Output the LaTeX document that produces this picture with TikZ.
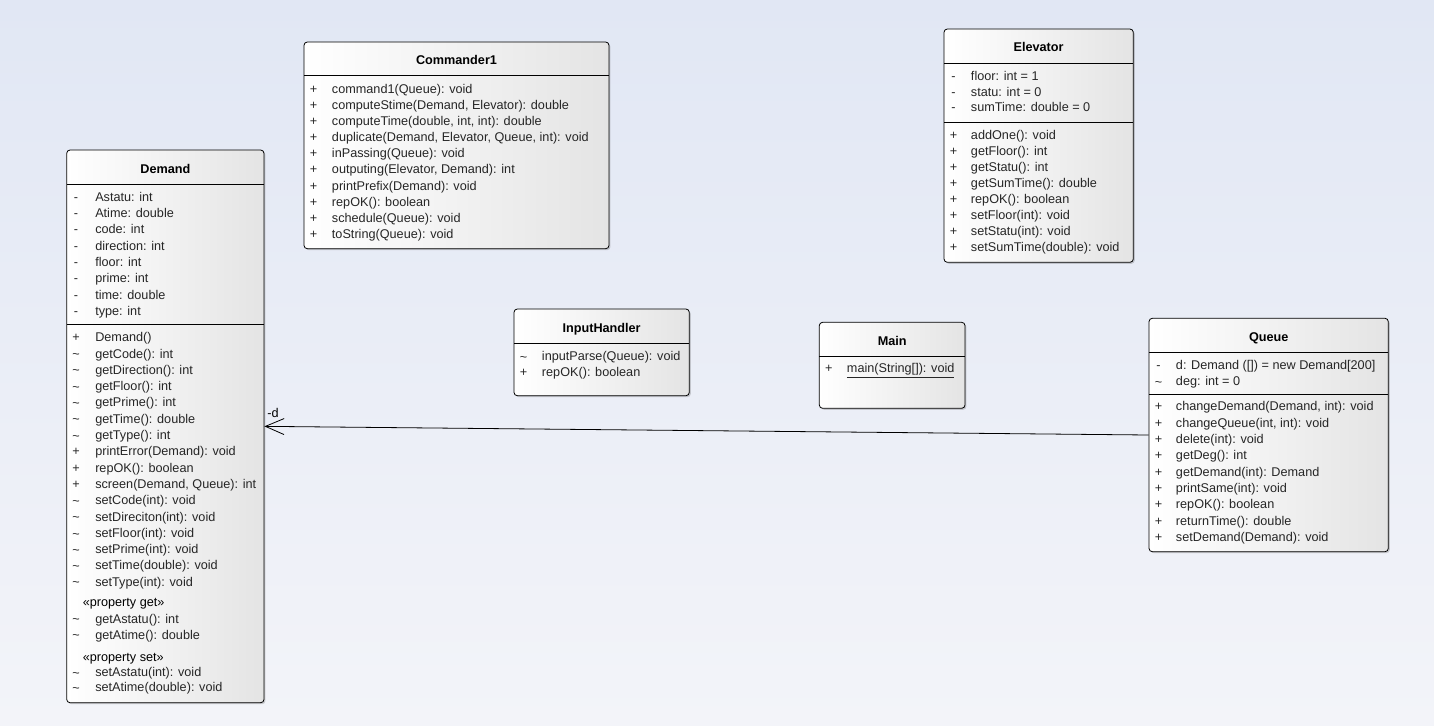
\documentclass[tikz,border=0pt]{standalone}
\usepackage{fontspec}
\setmainfont{Liberation Sans}
\usepackage{xcolor}
\usepackage{tikz}
\usetikzlibrary{arrows.meta,positioning,fit,calc,shadows}

\definecolor{bgtop}{RGB}{225,231,244}
\definecolor{bgbot}{RGB}{243,244,249}
\definecolor{boxgray}{RGB}{228,228,228}
\newcommand{\pk}{\raisebox{-0.1ex}{\textasciitilde}}

\begin{document}
\begin{tikzpicture}[x=0.75pt,y=-0.75pt,font=\fontsize{9.5}{11.5}\selectfont,
  classbox/.style={draw=black,line width=0.6pt,rounded corners=2.5pt,inner sep=0pt,
    left color=white,right color=boxgray,
    drop shadow={shadow xshift=1.1pt,shadow yshift=-1.1pt,opacity=0.25,fill=black!70}},
  sepline/.style={draw=black,line width=0.6pt},
  classname/.style={font=\fontsize{9.5}{11.5}\selectfont\bfseries,inner sep=0pt,anchor=mid},
  symcol/.style={anchor=mid,inner sep=0pt,text=black!85},
  rowtxt/.style={anchor=mid west,inner sep=0pt,text=black!85},
  stereo/.style={anchor=mid west,inner sep=0pt},
  assoc/.style={draw=black,line width=0.6pt,-{Straight Barb[length=14pt,width=12pt]}}]

  % background
  \shade[top color=bgtop,bottom color=bgbot] (0,0) rectangle (1434,725);

  % class boxes
  \node[classbox,fit={(66.7,150) (264,702.7)}] (demand) {};
  \node[classbox,fit={(304,42) (609,248.7)}] (commander) {};
  \node[classbox,fit={(944,29) (1133.3,262.3)}] (elevator) {};
  \node[classbox,fit={(514,309) (689.3,395.7)}] (inputhandler) {};
  \node[classbox,fit={(819.3,322.3) (965,408.3)}] (mainclass) {};
  \node[classbox,fit={(1149,318.3) (1388.3,551.7)}] (queue) {};

  % Demand
  \node[classname] (demand-name) at (165.4,170) {Demand};
  \draw[sepline] (66.7,184.3) -- (264,184.3);
  \draw[sepline] (66.7,324.3) -- (264,324.3);
  \foreach \sym/\txt [count=\i] in {-/{Astatu: int}, -/{Atime: double}, -/{code: int},
      -/{direction: int}, -/{floor: int}, -/{prime: int}, -/{time: double}, -/{type: int}}{
    \pgfmathsetmacro{\yy}{197.8+(\i-1)*16.3}
    \node[symcol] (dm-as\i) at (76,\yy) {\sym};
    \node[rowtxt] (dm-a\i) at (95,\yy) {\txt};
  }
  \foreach \sym/\txt [count=\i] in {+/{Demand()}, \pk/{getCode(): int},
      \pk/{getDirection(): int}, \pk/{getFloor(): int}, \pk/{getPrime(): int},
      \pk/{getTime(): double}, \pk/{getType(): int}, +/{printError(Demand): void},
      +/{repOK(): boolean}, +/{screen(Demand, Queue): int}, \pk/{setCode(int): void},
      \pk/{setDireciton(int): void}, \pk/{setFloor(int): void}, \pk/{setPrime(int): void},
      \pk/{setTime(double): void}, \pk/{setType(int): void}}{
    \pgfmathsetmacro{\yy}{338.2+(\i-1)*16.3}
    \node[symcol] (dm-ms\i) at (76,\yy) {\sym};
    \node[rowtxt] (dm-m\i) at (95,\yy) {\txt};
  }
  \node[stereo] (dm-get) at (82.5,603.2) {«property get»};
  \node[symcol] (dm-gs1) at (76,619.5) {\pk};
  \node[rowtxt] (dm-g1) at (95,619.5) {getAstatu(): int};
  \node[symcol] (dm-gs2) at (76,635.5) {\pk};
  \node[rowtxt] (dm-g2) at (95,635.5) {getAtime(): double};
  \node[stereo] (dm-set) at (82.5,657.8) {«property set»};
  \node[symcol] (dm-ss1) at (76,672.8) {\pk};
  \node[rowtxt] (dm-s1) at (95,672.8) {setAstatu(int): void};
  \node[symcol] (dm-ss2) at (76,688.2) {\pk};
  \node[rowtxt] (dm-s2) at (95,688.2) {setAtime(double): void};

  % Commander1
  \node[classname] (commander-name) at (456.5,61.3) {Commander1};
  \draw[sepline] (304,75.3) -- (609,75.3);
  \foreach \txt [count=\i] in {{command1(Queue): void}, {computeStime(Demand, Elevator): double},
      {computeTime(double, int, int): double}, {duplicate(Demand, Elevator, Queue, int): void},
      {inPassing(Queue): void}, {outputing(Elevator, Demand): int}, {printPrefix(Demand): void},
      {repOK(): boolean}, {schedule(Queue): void}, {toString(Queue): void}}{
    \pgfmathsetmacro{\yy}{89.7+(\i-1)*16.15}
    \node[symcol] (cm-ms\i) at (313.5,\yy) {+};
    \node[rowtxt] (cm-m\i) at (331.7,\yy) {\txt};
  }

  % Elevator
  \node[classname] (elevator-name) at (1038.6,48.3) {Elevator};
  \draw[sepline] (944,63.3) -- (1133.3,63.3);
  \draw[sepline] (944,122.3) -- (1133.3,122.3);
  \foreach \txt [count=\i] in {{floor: int = 1}, {statu: int = 0}, {sumTime: double = 0}}{
    \pgfmathsetmacro{\yy}{77.2+(\i-1)*15.6}
    \node[symcol] (el-as\i) at (953.5,\yy) {-};
    \node[rowtxt] (el-a\i) at (970.7,\yy) {\txt};
  }
  \foreach \txt [count=\i] in {{addOne(): void}, {getFloor(): int}, {getStatu(): int},
      {getSumTime(): double}, {repOK(): boolean}, {setFloor(int): void},
      {setStatu(int): void}, {setSumTime(double): void}}{
    \pgfmathsetmacro{\yy}{135.5+(\i-1)*16.1}
    \node[symcol] (el-ms\i) at (953.5,\yy) {+};
    \node[rowtxt] (el-m\i) at (970.7,\yy) {\txt};
  }

  % InputHandler
  \node[classname] (inputhandler-name) at (601.6,329) {InputHandler};
  \draw[sepline] (514,343.3) -- (689.3,343.3);
  \node[symcol] (ih-ms1) at (523.5,357.2) {\pk};
  \node[rowtxt] (ih-m1) at (541.7,357.2) {inputParse(Queue): void};
  \node[symcol] (ih-ms2) at (523.5,373.2) {+};
  \node[rowtxt] (ih-m2) at (541.7,373.2) {repOK(): boolean};

  % Main
  \node[classname] (mainclass-name) at (892.2,341.7) {Main};
  \draw[sepline] (819.3,356) -- (965,356);
  \node[symcol] (mn-ms1) at (828.8,368.8) {+};
  \node[rowtxt] (mn-m1) at (846.7,368.8) {\underline{main(String[]): void}};

  % Queue
  \node[classname] (queue-name) at (1268.7,337.7) {Queue};
  \draw[sepline] (1149,352.3) -- (1388.3,352.3);
  \draw[sepline] (1149,394.3) -- (1388.3,394.3);
  \node[symcol] (qu-as1) at (1158.5,366.2) {-};
  \node[rowtxt] (qu-a1) at (1175.7,366.2) {d: Demand ([]) = new Demand[200]};
  \node[symcol] (qu-as2) at (1158.5,382.2) {\pk};
  \node[rowtxt] (qu-a2) at (1175.7,382.2) {deg: int = 0};
  \foreach \txt [count=\i] in {{changeDemand(Demand, int): void}, {changeQueue(int, int): void},
      {delete(int): void}, {getDeg(): int}, {getDemand(int): Demand}, {printSame(int): void},
      {repOK(): boolean}, {returnTime(): double}, {setDemand(Demand): void}}{
    \pgfmathsetmacro{\yy}{407.4+(\i-1)*16.3}
    \node[symcol] (qu-ms\i) at (1158.5,\yy) {+};
    \node[rowtxt] (qu-m\i) at (1175.7,\yy) {\txt};
  }

  % association Queue -> Demand
  \draw[assoc] (queue.west) -- (demand.east)
    node[pos=1,anchor=south west,inner sep=2pt,yshift=4.5pt] (d-role) {-d};
\end{tikzpicture}
\end{document}
